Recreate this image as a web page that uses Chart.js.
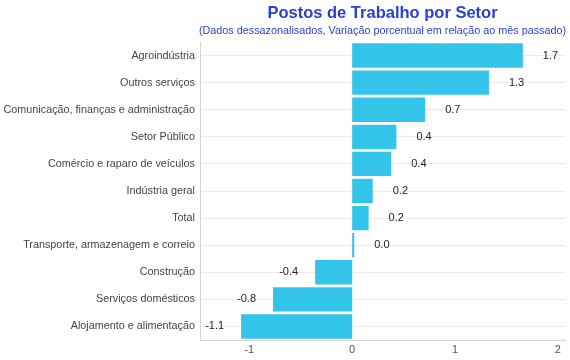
<!DOCTYPE html>
<html>
<head>
<meta charset="utf-8">
<script src="https://cdn.jsdelivr.net/npm/chart.js@4.4.1/dist/chart.umd.min.js"></script>
<style>
  html, body { margin: 0; padding: 0; background: #fff; }
  #wrap { width: 570px; height: 360px; }
</style>
</head>
<body>
<div id="wrap"><canvas id="chart" width="570" height="360"></canvas></div>
<script>
// Sectors, top to bottom
const sectors = [
    'Agroindústria',
    'Outros serviços',
    'Comunicação, finanças e administração',
    'Setor Público',
    'Comércio e raparo de veículos',
    'Indústria geral',
    'Total',
    'Transporte, armazenagem e correio',
    'Construção',
    'Serviços domésticos',
    'Alojamento e alimentação'
];

// Month-over-month change, %
const changes = [1.66, 1.33, 0.71, 0.43, 0.38, 0.2, 0.16, 0.02, -0.36, -0.77, -1.08];

const xTicks = [-1, 0, 1, 2];

const titleText = 'Postos de Trabalho por Setor';
const subtitleText = '(Dados dessazonalisados, Variação porcentual em relação ao mês passado)';

const FONT = '"Liberation Sans", Arial, Helvetica, sans-serif';

// Title + subtitle centred over the plot area, not the canvas
const headerPlugin = {
    id: 'header',
    afterDraw(chart) {
        const { ctx, chartArea } = chart;
        const cx = (chartArea.left + chartArea.right) / 2;
        ctx.save();
        ctx.textAlign = 'center';
        ctx.textBaseline = 'middle';
        ctx.fillStyle = '#2a3ed6';
        ctx.font = 'bold 16.5px ' + FONT;
        ctx.fillText(titleText, cx, 13);
        ctx.font = '10.8px ' + FONT;
        ctx.fillText(subtitleText, cx, 31);
        ctx.restore();
    }
};

// Value labels outside the bar ends
const valueLabels = {
    id: 'valueLabels',
    afterDatasetsDraw(chart) {
        const { ctx } = chart;
        const meta = chart.getDatasetMeta(0);
        ctx.save();
        ctx.font = '11px ' + FONT;
        ctx.fillStyle = '#222';
        ctx.textBaseline = 'middle';
        meta.data.forEach((bar, i) => {
            const v = changes[i];
            const txt = v.toFixed(1);
            if (v >= 0) {
                ctx.textAlign = 'left';
                ctx.fillText(txt, bar.x + 20, bar.y);
            } else {
                ctx.textAlign = 'right';
                ctx.fillText(txt, bar.x - 17, bar.y);
            }
        });
        ctx.restore();
    }
};

new Chart(document.getElementById('chart'), {
    type: 'bar',
    data: {
        labels: sectors,
        datasets: [{
            data: changes,
            backgroundColor: '#33c4ea',
            borderWidth: 0,
            barPercentage: 0.9,
            categoryPercentage: 1.0
        }]
    },
    options: {
        indexAxis: 'y',
        responsive: false,
        animation: false,
        layout: { padding: { top: 42, right: 5, left: 0, bottom: 0 } },
        plugins: {
            legend: { display: false },
            tooltip: { enabled: false }
        },
        scales: {
            x: {
                min: -1.48,
                max: 2.07,
                afterBuildTicks(axis) {
                    axis.ticks = xTicks.map(v => ({ value: v }));
                },
                afterFit(axis) { axis.height = 20; },
                grid: { display: false, drawTicks: false },
                border: { display: true, color: '#d4d4d4', width: 1 },
                ticks: {
                    color: '#555',
                    font: { family: FONT, size: 11 },
                    padding: 3
                }
            },
            y: {
                afterFit(axis) { axis.width = 200; },
                grid: { display: true, offset: false, color: '#ebebeb', drawTicks: false },
                border: { display: true, color: '#d4d4d4', width: 1 },
                ticks: {
                    color: '#444',
                    font: { family: FONT, size: 10.8 },
                    padding: 5
                }
            }
        }
    },
    plugins: [headerPlugin, valueLabels]
});
</script>
</body>
</html>
